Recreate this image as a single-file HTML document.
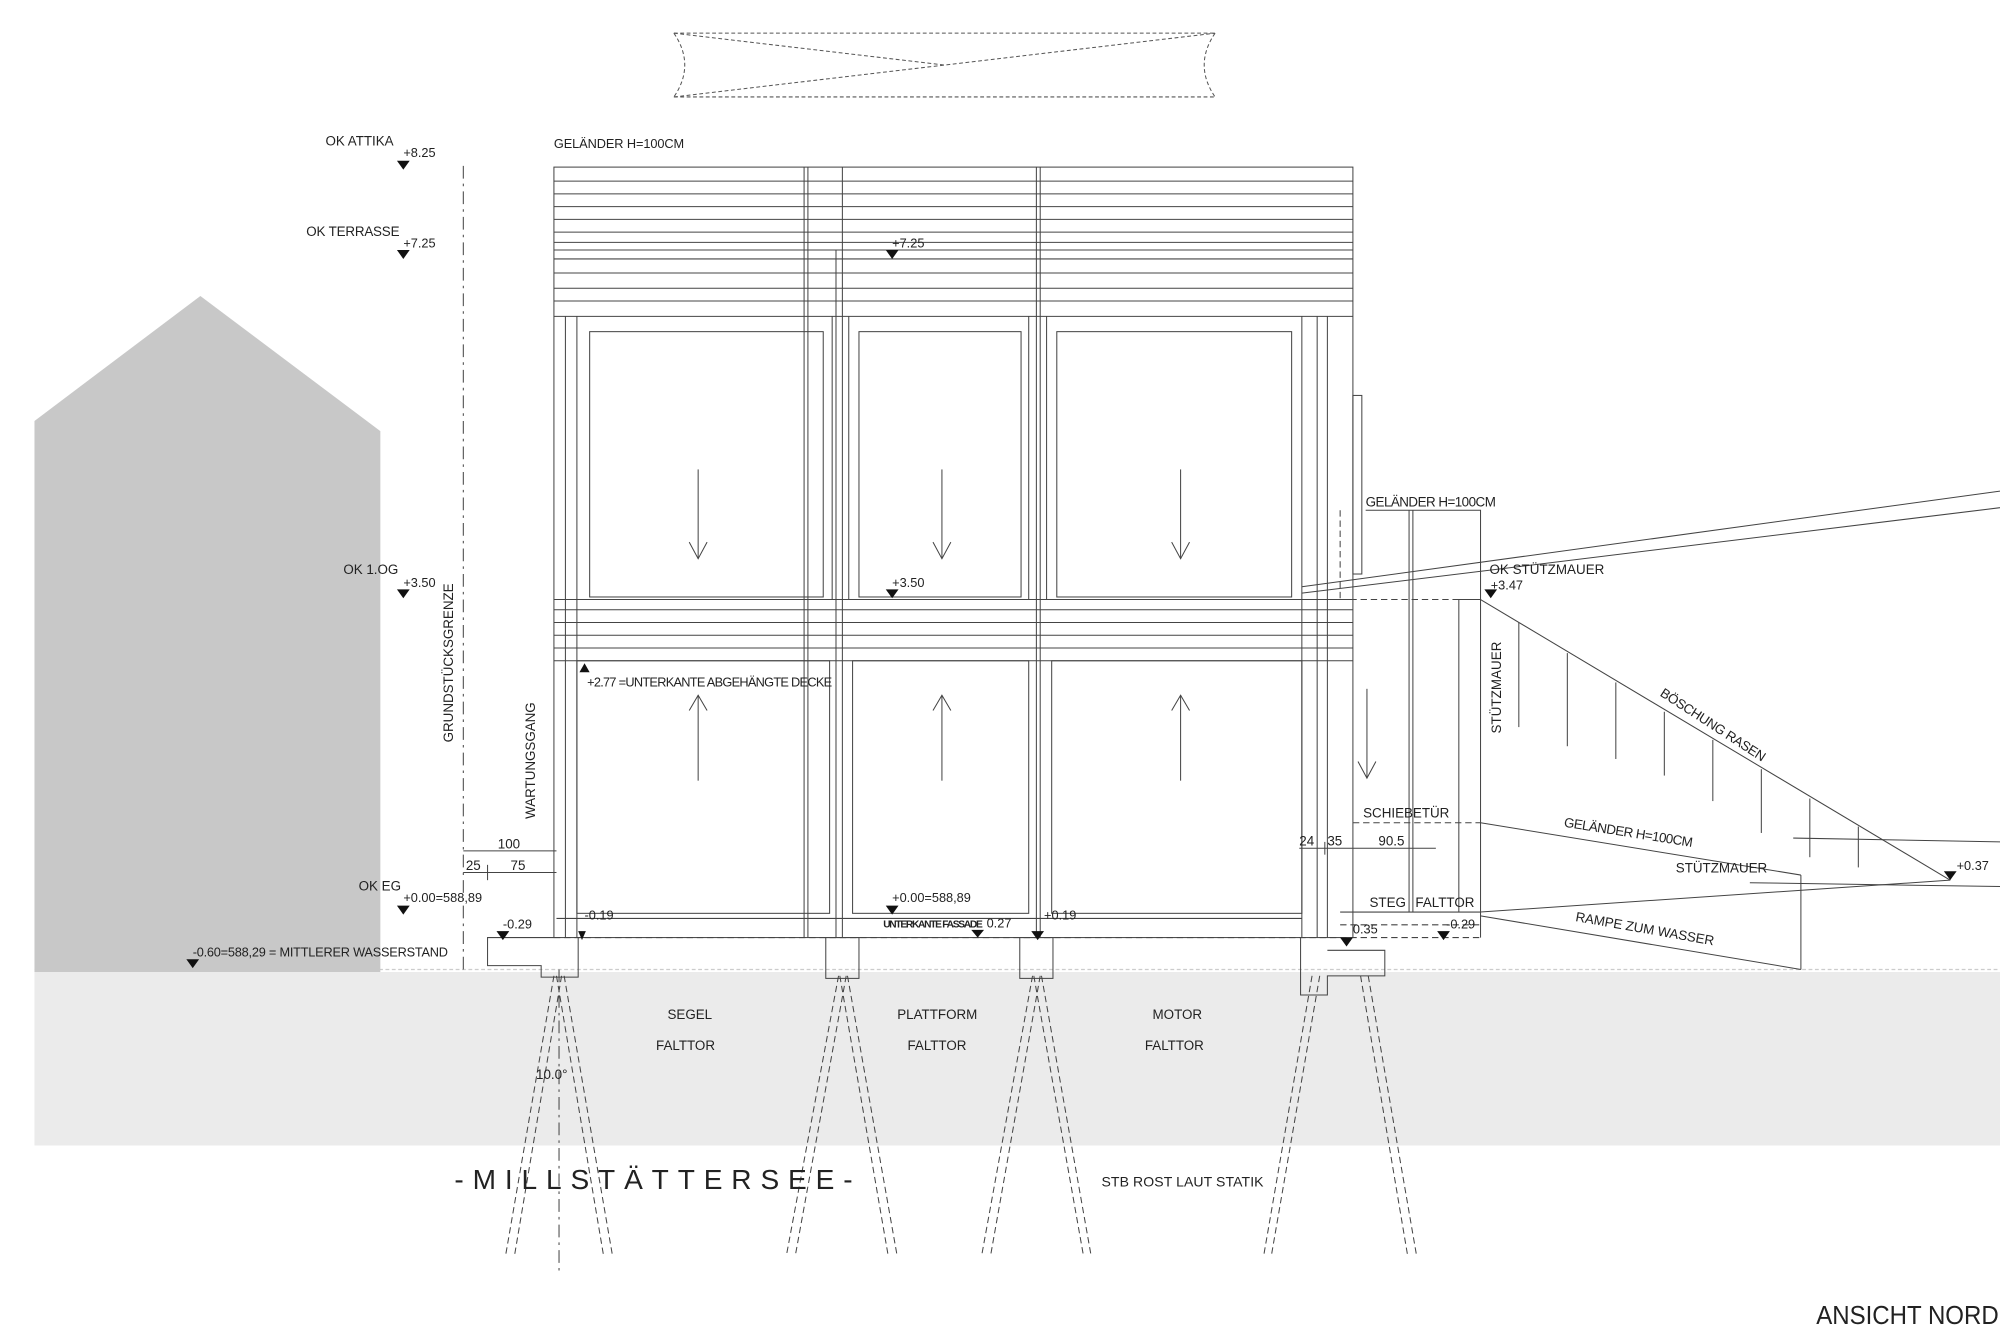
<!DOCTYPE html>
<html><head><meta charset="utf-8"><style>
html,body{margin:0;padding:0;background:#fff;}
svg{display:block;}
text{font-family:"Liberation Sans",sans-serif;fill:#222;}
</style></head><body>
<svg width="2000" height="1333" viewBox="0 0 1567 1045" preserveAspectRatio="none" xmlns="http://www.w3.org/2000/svg">
<rect width="1567" height="1045" fill="#fff"/>
<rect x="27" y="762" width="1540" height="136" fill="#ebebeb"/>
<line x1="27" y1="760" x2="1567" y2="760" stroke="#ccc" stroke-width="1" stroke-dasharray="3,2"/>
<polygon points="27,330 157,232 298,338 298,762 27,762" fill="#c8c8c8"/>
<g stroke="#555" stroke-width="0.8" fill="none" stroke-dasharray="3,2">
<line x1="528" y1="26" x2="952" y2="26"/><line x1="528" y1="76" x2="952" y2="76"/>
<line x1="528" y1="76" x2="952" y2="26"/><line x1="528" y1="26" x2="740" y2="51"/>
<path d="M528,26 Q545,51 528,76"/><path d="M952,26 Q935,51 952,76"/>
</g>
<line x1="363" y1="130" x2="363" y2="760" stroke="#444" stroke-width="0.8" stroke-dasharray="10,4,2,4"/>
<line x1="438" y1="760" x2="438" y2="1000" stroke="#444" stroke-width="0.8" stroke-dasharray="10,4,2,4"/>
<g stroke="#444" stroke-width="0.8" fill="none">
<rect x="434" y="131" width="626" height="604"/>
<line x1="434" y1="142" x2="1060" y2="142"/><line x1="434" y1="152" x2="1060" y2="152"/>
<line x1="434" y1="162" x2="1060" y2="162"/><line x1="434" y1="172" x2="1060" y2="172"/>
<line x1="434" y1="182" x2="1060" y2="182"/><line x1="434" y1="190" x2="1060" y2="190"/>
<line x1="434" y1="196" x2="1060" y2="196"/>
<line x1="434" y1="203" x2="1060" y2="203"/><line x1="434" y1="214" x2="1060" y2="214"/>
<line x1="434" y1="226" x2="1060" y2="226"/><line x1="434" y1="236" x2="1060" y2="236"/>
<line x1="434" y1="248" x2="1060" y2="248"/>
<line x1="434" y1="470" x2="1060" y2="470"/><line x1="434" y1="478" x2="1060" y2="478"/>
<line x1="434" y1="488" x2="1060" y2="488"/><line x1="434" y1="498" x2="1060" y2="498"/>
<line x1="434" y1="508" x2="1060" y2="508"/>
<line x1="434" y1="518" x2="1060" y2="518"/>
<line x1="630" y1="131" x2="630" y2="735"/><line x1="633" y1="131" x2="633" y2="735"/>
<line x1="655" y1="196" x2="655" y2="735"/><line x1="660" y1="131" x2="660" y2="735"/>
<line x1="812" y1="131" x2="812" y2="735"/><line x1="815" y1="131" x2="815" y2="735"/>
<line x1="452" y1="248" x2="452" y2="735"/><line x1="443" y1="248" x2="443" y2="735"/>
<line x1="1020" y1="248" x2="1020" y2="735"/><line x1="1032" y1="248" x2="1032" y2="735"/>
<line x1="1040" y1="248" x2="1040" y2="735"/>
<rect x="462" y="260" width="183" height="208"/><rect x="673" y="260" width="127" height="208"/><rect x="828" y="260" width="184" height="208"/>
<line x1="665" y1="248" x2="665" y2="470"/><line x1="806" y1="248" x2="806" y2="470"/><line x1="820" y1="248" x2="820" y2="470"/><line x1="652" y1="248" x2="652" y2="470"/>
<rect x="452" y="518" width="198" height="198"/><rect x="668" y="518" width="138" height="198"/><rect x="824" y="518" width="196" height="198"/>
<line x1="436" y1="720" x2="1020" y2="720"/>
<rect x="1060" y="310" width="7" height="140"/>
<line x1="547" y1="368" x2="547" y2="438"/><polyline points="540,425 547,438 554,425"/>
<line x1="738" y1="368" x2="738" y2="438"/><polyline points="731,425 738,438 745,425"/>
<line x1="925" y1="368" x2="925" y2="438"/><polyline points="918,425 925,438 932,425"/>
<line x1="547" y1="545" x2="547" y2="612"/><polyline points="540,557 547,545 554,557"/>
<line x1="738" y1="545" x2="738" y2="612"/><polyline points="731,557 738,545 745,557"/>
<line x1="925" y1="545" x2="925" y2="612"/><polyline points="918,557 925,545 932,557"/>
<line x1="1071" y1="540" x2="1071" y2="610"/><polyline points="1064,597 1071,610 1078,597"/>
<line x1="1104" y1="400" x2="1104" y2="715"/><line x1="1107" y1="400" x2="1107" y2="715"/>
<polyline points="1070,400 1160,400 1160,735"/>
<polyline points="1143,715 1143,470 1160,470"/>
<line x1="1050" y1="715" x2="1160" y2="715"/>
<polyline points="434,735 382,735 382,757 424,757 424,766 453,766 453,735"/>
<rect x="647" y="735" width="26" height="32"/><rect x="799" y="735" width="26" height="32"/>
<polyline points="1019,735 1019,780 1040,780 1040,765 1085,765 1085,745 1040,745"/>
<line x1="1160" y1="470" x2="1528" y2="690"/>
<line x1="1190" y1="488" x2="1190" y2="570"/><line x1="1228" y1="512" x2="1228" y2="585"/>
<line x1="1266" y1="535" x2="1266" y2="595"/><line x1="1304" y1="558" x2="1304" y2="608"/>
<line x1="1342" y1="580" x2="1342" y2="628"/><line x1="1380" y1="603" x2="1380" y2="653"/>
<line x1="1418" y1="626" x2="1418" y2="672"/><line x1="1456" y1="648" x2="1456" y2="680"/>
<line x1="1020" y1="460" x2="1567" y2="385"/><line x1="1020" y1="465" x2="1567" y2="398"/>
<line x1="1160" y1="645" x2="1411" y2="686"/><line x1="1411" y1="686" x2="1411" y2="760"/>
<line x1="1160" y1="715" x2="1528" y2="690"/>
<line x1="1160" y1="718" x2="1411" y2="760"/>
<line x1="1371" y1="692" x2="1567" y2="695"/><line x1="1405" y1="657" x2="1567" y2="660"/>
<line x1="363" y1="667" x2="436" y2="667"/><line x1="363" y1="684" x2="436" y2="684"/>
<line x1="382" y1="678" x2="382" y2="690"/>
<line x1="1018" y1="665" x2="1125" y2="665"/><line x1="1038" y1="660" x2="1038" y2="670"/>
</g>
<g stroke="#444" stroke-width="0.8" fill="none" stroke-dasharray="5,3">
<line x1="434" y1="735" x2="1160" y2="735"/>
<line x1="1050" y1="400" x2="1050" y2="470"/><line x1="1050" y1="470" x2="1160" y2="470"/>
<line x1="1060" y1="645" x2="1160" y2="645"/>
<line x1="1050" y1="725" x2="1160" y2="725"/>
<line x1="434" y1="765" x2="396" y2="985"/><line x1="440" y1="765" x2="403" y2="985"/>
<line x1="436" y1="765" x2="473" y2="985"/><line x1="442" y1="765" x2="480" y2="985"/>
<line x1="657" y1="765" x2="616" y2="985"/><line x1="663" y1="765" x2="623" y2="985"/>
<line x1="658" y1="765" x2="696" y2="985"/><line x1="664" y1="765" x2="703" y2="985"/>
<line x1="809" y1="765" x2="769" y2="985"/><line x1="815" y1="765" x2="776" y2="985"/>
<line x1="810" y1="765" x2="849" y2="985"/><line x1="816" y1="765" x2="855" y2="985"/>
<line x1="1028" y1="765" x2="990" y2="985"/><line x1="1034" y1="765" x2="996" y2="985"/>
<line x1="1066" y1="765" x2="1103" y2="985"/><line x1="1072" y1="765" x2="1110" y2="985"/>
</g>
<g fill="#111">
<polygon points="311,126 321,126 316,133"/><polygon points="311,196 321,196 316,203"/>
<polygon points="311,462 321,462 316,469"/><polygon points="311,710 321,710 316,717"/>
<polygon points="146,752 156,752 151,759"/><polygon points="389,730 399,730 394,737"/>
<polygon points="453,730 459,730 456,737"/><polygon points="694,196 704,196 699,203"/>
<polygon points="694,462 704,462 699,469"/><polygon points="694,710 704,710 699,717"/>
<polygon points="761,729 771,729 766,735"/><polygon points="808,730 818,730 813,737"/>
<polygon points="454,527 462,527 458,520"/><polygon points="1163,462 1173,462 1168,469"/>
<polygon points="1523,683 1533,683 1528,690"/><polygon points="1050,735 1060,735 1055,742"/>
<polygon points="1126,730 1136,730 1131,737"/>
</g>
<g font-size="10.5">
<text x="255" y="114">OK ATTIKA</text><text x="316" y="123" font-size="10">+8.25</text>
<text x="240" y="185" textLength="73">OK TERRASSE</text><text x="316" y="194" font-size="10">+7.25</text>
<text x="269" y="450">OK 1.OG</text><text x="316" y="460" font-size="10">+3.50</text>
<text x="281" y="698">OK EG</text><text x="316" y="707" font-size="10">+0.00=588,89</text>
<text x="151" y="750" font-size="10" textLength="200">-0.60=588,29 = MITTLERER WASSERSTAND</text>
<text x="394" y="728" font-size="10">-0.29</text><text x="458" y="721" font-size="10">-0.19</text>
<text x="699" y="194" font-size="10">+7.25</text><text x="699" y="460" font-size="10">+3.50</text>
<text x="699" y="707" font-size="10">+0.00=588,89</text>
<text x="692" y="727" font-size="8" font-weight="bold" textLength="78">UNTERKANTE FASSADE</text>
<text x="773" y="727" font-size="10">0.27</text><text x="818" y="721" font-size="10">+0.19</text>
<text x="460" y="538" font-size="10" textLength="192">+2.77 =UNTERKANTE ABGEHÄNGTE DECKE</text>
<text x="434" y="116" font-size="10" fill="#777" textLength="102">GELÄNDER H=100CM</text>
<text x="1070" y="397" textLength="102">GELÄNDER H=100CM</text>
<text x="1167" y="450" textLength="90">OK STÜTZMAUER</text><text x="1168" y="462" font-size="10">+3.47</text>
<text x="1068" y="641">SCHIEBETÜR</text>
<text x="1073" y="711">STEG</text><text x="1109" y="711">FALTTOR</text>
<text x="1060" y="732" font-size="10">0.35</text><text x="1133" y="728" font-size="10">-0.29</text>
<text x="1018" y="663">24</text><text x="1040" y="663">35</text><text x="1080" y="663">90.5</text>
<text x="390" y="665">100</text><text x="365" y="682">25</text><text x="400" y="682">75</text>
<text x="1313" y="684" fill="#888">STÜTZMAUER</text>
<text x="1533" y="682" font-size="10">+0.37</text>
<text transform="translate(1225,648) rotate(9)" textLength="102">GELÄNDER H=100CM</text>
<text transform="translate(1234,722) rotate(10)" textLength="110">RAMPE ZUM WASSER</text>
<text transform="translate(1300,545) rotate(33)" textLength="96">BÖSCHUNG RASEN</text>
<text transform="translate(1176,575) rotate(-90)" textLength="72">STÜTZMAUER</text>
<text transform="translate(355,582) rotate(-90)">GRUNDSTÜCKSGRENZE</text>
<text transform="translate(419,642) rotate(-90)">WARTUNGSGANG</text>
<text x="523" y="799">SEGEL</text><text x="514" y="823">FALTTOR</text>
<text x="703" y="799">PLATTFORM</text><text x="711" y="823">FALTTOR</text>
<text x="903" y="799">MOTOR</text><text x="897" y="823">FALTTOR</text>
<text x="420" y="846">10.0°</text>
<text x="356" y="932" font-size="22" textLength="312" lengthAdjust="spacing">-MILLSTÄTTERSEE-</text>
<text x="863" y="930" font-size="11" fill="#777" textLength="127">STB ROST LAUT STATIK</text>
<text x="1423" y="1038" font-size="20" fill="#111" textLength="143" lengthAdjust="spacingAndGlyphs">ANSICHT NORD</text>
</g>
</svg>
</body></html>
